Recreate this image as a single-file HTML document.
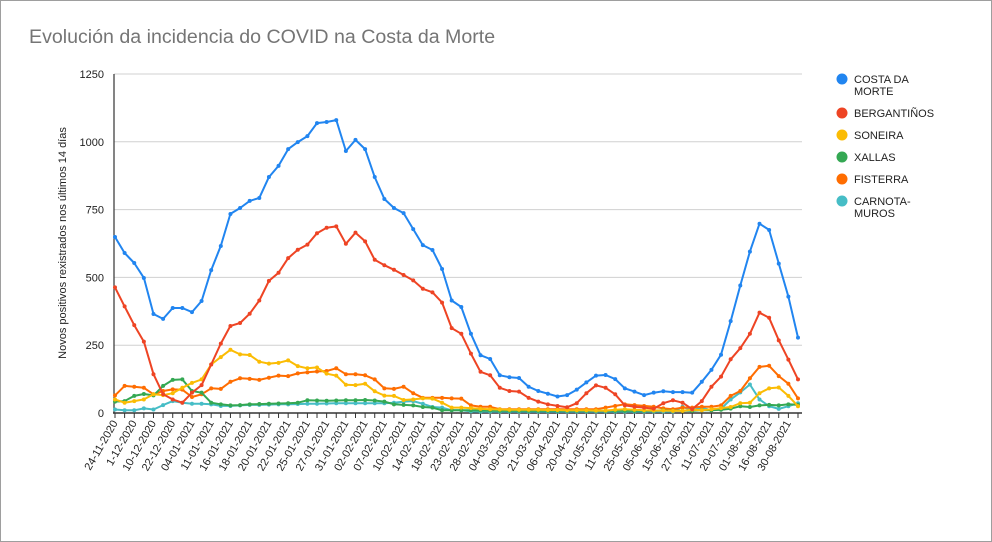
<!DOCTYPE html>
<html><head><meta charset="utf-8"><style>
body{margin:0;background:#fff;font-family:"Liberation Sans",Arial,sans-serif}
#wrap{position:relative;width:990px;height:540px;border:1px solid #9e9e9e;overflow:hidden}
</style></head><body>
<div id="wrap">
<svg id="chart" width="992" height="542"></svg>
</div>
<script>
const labels=["24-11-2020","1-12-2020","10-12-2020","22-12-2020","04-01-2021","11-01-2021","16-01-2021","18-01-2021","20-01-2021","22-01-2021","25-01-2021","27-01-2021","31-01-2021","02-02-2021","07-02-2021","10-02-2021","14-02-2021","18-02-2021","23-02-2021","28-02-2021","04-03-2021","09-03-2021","21-03-2021","06-04-2021","20-04-2021","01-05-2021","11-05-2021","25-05-2021","05-06-2021","15-06-2021","27-06-2021","11-07-2021","20-07-2021","01-08-2021","16-08-2021","30-08-2021"];
const yTicks=[0,250,500,750,1000,1250];
const seriesNames=["COSTA DA MORTE","BERGANTIÑOS","SONEIRA","XALLAS","FISTERRA","CARNOTA-MUROS"];
const colors=["#2185f0","#ee4424","#fbbc04","#34a853","#ff6d01","#46bdc6"];
const costa=[649,590,553,498,365,347,387,387,372,413,527,616,734,756,782,793,870,911,973,999,1021,1069,1073,1080,966,1007,973,870,789,756,737,678,619,601,531,415,391,292,213,199,139,132,129,97,81,71,61,66,86,113,138,140,125,91,79,66,75,80,77,77,75,115,159,215,339,470,595,698,675,551,429,278];
const bergantinos=[463,393,324,263,143,69,50,38,75,103,179,256,321,332,366,415,487,517,571,602,621,663,683,688,624,665,633,565,545,528,509,489,458,445,407,313,292,219,152,139,93,81,79,56,42,32,26,21,36,73,102,93,69,28,23,20,16,36,47,38,14,44,97,134,198,239,292,370,351,268,197,124];
const soneira=[50,38,44,50,69,66,73,93,111,124,179,206,233,216,214,189,182,185,194,173,165,168,145,138,104,103,108,80,64,63,48,50,54,53,38,20,20,18,15,14,13,12,12,12,12,11,11,10,10,10,9,9,12,14,12,10,9,9,8,8,12,10,14,18,22,36,38,73,91,94,63,25];
const xallas=[42,44,63,70,65,100,122,124,81,75,38,32,28,29,32,33,34,35,36,38,47,46,45,46,47,47,48,46,42,32,30,28,22,20,10,10,10,10,9,9,8,8,8,8,8,8,8,8,8,8,8,8,8,8,8,8,8,10,8,8,8,10,10,12,16,25,22,28,30,28,32,30];
const fisterra=[65,100,97,93,69,81,87,86,59,69,91,89,115,128,126,122,130,138,136,146,150,153,155,165,143,143,139,124,91,89,97,73,56,56,56,54,53,28,23,23,14,14,14,14,14,14,14,14,14,14,14,20,26,32,29,26,23,17,14,20,20,23,23,28,63,81,128,170,174,136,108,54];
const carnota=[13,10,10,17,13,29,44,38,34,34,32,26,26,28,30,30,31,32,32,33,34,34,35,36,36,36,36,36,36,38,42,44,34,22,20,10,10,6,5,5,5,5,5,5,5,5,5,5,5,5,5,5,5,5,5,5,5,5,5,23,10,20,10,15,50,76,105,50,25,15,25,36];
const allSeries=[costa,bergantinos,soneira,xallas,fisterra,carnota];

const NS="http://www.w3.org/2000/svg";
const svg=document.getElementById('chart');
const X0=114,X1=797,Y0=412,Y1=73,YMAX=1250;
const N=costa.length;
const xs=i=>X0+(X1-X0)*i/(N-1);
const ys=v=>Y0-(Y0-Y1)*v/YMAX;
function mk(tag,attrs,parent){const e=document.createElementNS(NS,tag);for(const k in attrs)e.setAttribute(k,attrs[k]);(parent||svg).appendChild(e);return e;}

let t=mk('text',{x:28,y:42,'font-size':19.6,fill:'#757575'});t.textContent="Evolución da incidencia do COVID na Costa da Morte";



yTicks.forEach(v=>{
 const y=ys(v);
 if(v>0){const g=mk('line',{x1:X0-1,x2:X1+4,y1:y,y2:y,stroke:'#d0d0d0','stroke-width':1});
 
 }
 const tx=mk('text',{x:103,y:y+4,'font-size':11,'text-anchor':'end',fill:'#222'});tx.textContent=v;
 
 
});
let yt=mk('text',{x:0,y:0,'font-size':11,'text-anchor':'middle',fill:'#222',transform:'translate(65,242) rotate(-90)'});
yt.textContent="Novos positivos rexistrados nos últimos 14 días";



let ax=mk('line',{x1:X0-1,x2:X0-1,y1:Y1,y2:Y0,stroke:'#333','stroke-width':1.2});


let bx=mk('line',{x1:X0-2,x2:X1+4,y1:Y0,y2:Y0,stroke:'#333','stroke-width':1.5});


for(let i=0;i<N;i++){const tk=mk('line',{x1:xs(i),x2:xs(i),y1:Y0,y2:Y0+5,stroke:'#333','stroke-width':1});
 
 }
labels.forEach((l,j)=>{
 const x=xs(j*2)+3,y=Y0+10;
 const tx=mk('text',{x:x,y:y,'font-size':11,'text-anchor':'end',fill:'#222',transform:`rotate(-60 ${x} ${y})`});
 tx.textContent=l;
 
 
});

for(let s=allSeries.length-1;s>=0;s--){
 const d=allSeries[s];
 const g=mk('g',{});
 
 
 const pts=d.map((v,i)=>xs(i).toFixed(1)+','+ys(v).toFixed(1)).join(' ');
 const pl=mk('polyline',{points:pts,fill:'none',stroke:colors[s],'stroke-width':2,'stroke-linejoin':'round'},g);
 
 
 d.forEach((v,i)=>{const c=mk('circle',{cx:xs(i),cy:ys(v),r:2,fill:colors[s]},g);
  
  });
}

const legY=[78,112,134,156,178,200];
seriesNames.forEach((n,i)=>{
 const g=mk('g',{});
 
 
 mk('circle',{cx:841,cy:legY[i],r:5.5,fill:colors[i]},g);
 const parts=n==="COSTA DA MORTE"?["COSTA DA","MORTE"]:n==="CARNOTA-MUROS"?["CARNOTA-","MUROS"]:[n];
 parts.forEach((p,k)=>{const tx=mk('text',{x:853,y:legY[i]+4+k*12,'font-size':11,fill:'#222'},g);tx.textContent=p;});
});
</script>
</body></html>
